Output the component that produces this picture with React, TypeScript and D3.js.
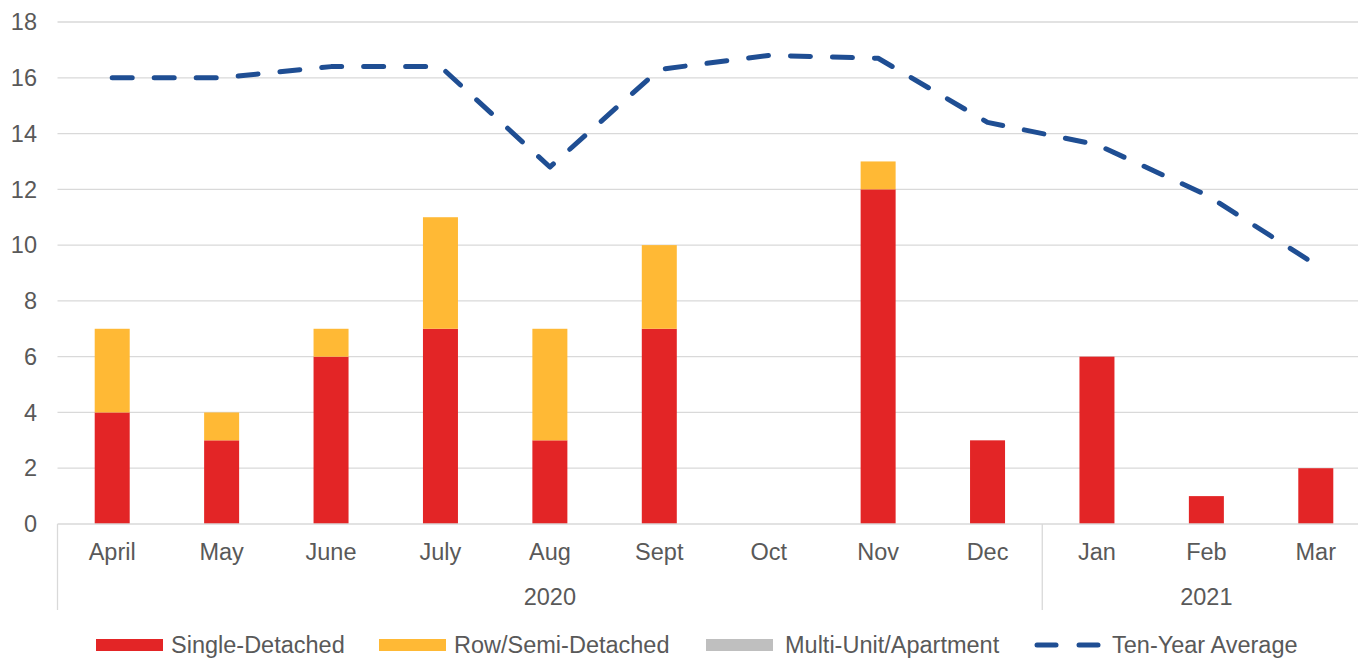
import React from 'react';
import * as d3 from 'd3';

const months = ['April', 'May', 'June', 'July', 'Aug', 'Sept', 'Oct', 'Nov', 'Dec', 'Jan', 'Feb', 'Mar'];
const years = [
  { label: '2020', from: 0, to: 8 },
  { label: '2021', from: 9, to: 11 },
];
const singleDetached = [4, 3, 6, 7, 3, 7, 0, 12, 3, 6, 1, 2];
const rowSemi = [3, 1, 1, 4, 4, 3, 0, 1, 0, 0, 0, 0];
const multiUnit = [0, 0, 0, 0, 0, 0, 0, 0, 0, 0, 0, 0];
const tenYearAvg = [16, 16, 16.4, 16.4, 12.8, 16.3, 16.8, 16.7, 14.4, 13.6, 11.8, 9.3];
const yTicks = [0, 2, 4, 6, 8, 10, 12, 14, 16, 18];

const RED = '#E32526';
const ORANGE = '#FFB935';
const GRAY = '#BFBFBF';
const BLUE = '#1F4E93';
const TEXT = '#595959';
const GRID = '#D9D9D9';

export default function App() {
  const width = 1358;
  const height = 659;
  const left = 57.5, right = 1370.5, top = 22, bottom = 524;

  const x = d3.scaleBand<number>().domain(d3.range(months.length)).range([left, right]);
  const y = d3.scaleLinear().domain([0, 18]).range([bottom, top]);
  const barW = 35;
  const fs = 23.5;

  const line = d3.line<number>()
    .x((_, i) => x(i)! + x.bandwidth() / 2)
    .y(d => y(d));

  const legend = [
    { label: 'Single-Detached', color: RED, x: 96, tx: 171 },
    { label: 'Row/Semi-Detached', color: ORANGE, x: 379, tx: 454 },
    { label: 'Multi-Unit/Apartment', color: GRAY, x: 706, tx: 785 },
  ];

  return (
    <svg width={width} height={height} style={{ position: 'absolute', left: 0, top: 0, fontFamily: 'Liberation Sans, Arial, sans-serif' }}>
      <rect width={width} height={height} fill="#fff" />
      {yTicks.map(t => (
        <g key={t}>
          {t > 0 && <line x1={left} x2={right} y1={y(t)} y2={y(t)} stroke={GRID} strokeWidth={1.3} />}
          <text x={37} y={y(t)} dy="0.35em" textAnchor="end" fontSize={fs} fill={TEXT}>{t}</text>
        </g>
      ))}
      {months.map((m, i) => {
        const bx = x(i)! + (x.bandwidth() - barW) / 2;
        const s = singleDetached[i], r = rowSemi[i], mu = multiUnit[i];
        return (
          <g key={m}>
            {s > 0 && <rect x={bx} width={barW} y={y(s)} height={y(0) - y(s)} fill={RED} />}
            {r > 0 && <rect x={bx} width={barW} y={y(s + r)} height={y(s) - y(s + r)} fill={ORANGE} />}
            {mu > 0 && <rect x={bx} width={barW} y={y(s + r + mu)} height={y(s + r) - y(s + r + mu)} fill={GRAY} />}
            <text x={x(i)! + x.bandwidth() / 2} y={552} dy="0.35em" textAnchor="middle" fontSize={fs} fill={TEXT}>{m}</text>
          </g>
        );
      })}
      <line x1={left} x2={right} y1={bottom} y2={bottom} stroke={GRID} strokeWidth={1.3} />
      {[left, x(9)!, right].map((lx, i) => (
        <line key={i} x1={lx} x2={lx} y1={bottom} y2={610} stroke={GRID} strokeWidth={1.3} />
      ))}
      {years.map(yr => {
        const cx = (x(yr.from)! + x(yr.to)! + x.bandwidth()) / 2;
        return (
          <text key={yr.label} x={cx} y={597} dy="0.35em" textAnchor="middle" fontSize={fs} fill={TEXT}>{yr.label}</text>
        );
      })}
      <path d={line(tenYearAvg)!} fill="none" stroke={BLUE} strokeWidth={5} strokeDasharray="20 22" strokeLinecap="round" strokeLinejoin="round" />
      {legend.map(l => (
        <g key={l.label}>
          <rect x={l.x} y={639} width={67} height={12} fill={l.color} />
          <text x={l.tx} y={645} dy="0.35em" fontSize={fs} fill={TEXT}>{l.label}</text>
        </g>
      ))}
      <line x1={1037} x2={1056} y1={645} y2={645} stroke={BLUE} strokeWidth={5} strokeLinecap="round" />
      <line x1={1079} x2={1098} y1={645} y2={645} stroke={BLUE} strokeWidth={5} strokeLinecap="round" />
      <text x={1112} y={645} dy="0.35em" fontSize={fs} fill={TEXT}>Ten-Year Average</text>
    </svg>
  );
}
